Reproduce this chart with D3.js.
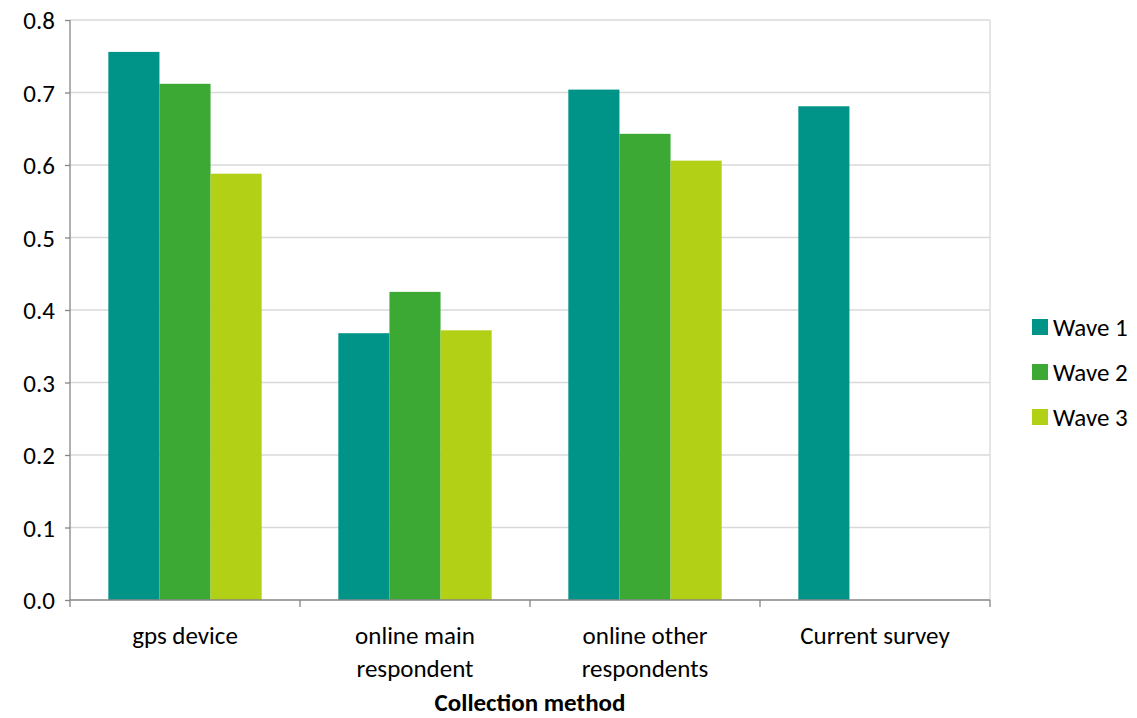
<!DOCTYPE html>
<html><head><meta charset="utf-8">
<script src="https://cdn.jsdelivr.net/npm/d3@7"></script>
<style>body{margin:0;background:#fff}svg{display:block}text{font-family:Carlito,Calibri,Lato,"Open Sans",sans-serif}</style>
</head><body><svg id="c" width="1137" height="718"></svg>
<script>
const categories = [["gps device"],["online main","respondent"],["online other","respondents"],["Current survey"]];
const seriesNames = ["Wave 1","Wave 2","Wave 3"];
const wave1 = [0.756, 0.368, 0.704, 0.681];
const wave2 = [0.712, 0.425, 0.643, null];
const wave3 = [0.588, 0.372, 0.606, null];
const colors = ["#009488","#3DA935","#B2D016"];
const yTicks = [0,0.1,0.2,0.3,0.4,0.5,0.6,0.7,0.8];
const xTitle = "Collection method";

const FS = 25;
const svg = d3.select("#c");
const m = {l:70, r:990, t:20, b:600};
const x = d3.scaleBand().domain(d3.range(categories.length)).range([m.l, m.r]).paddingInner(0).paddingOuter(0);
const bw = x.bandwidth()/4.5;
const xs = d3.scaleBand().domain(d3.range(3)).range([bw*0.75, bw*3.75]);
const y = d3.scaleLinear().domain([0,0.8]).range([m.b, m.t]);

// gridlines
svg.append("g").selectAll("line").data(yTicks.slice(1)).join("line")
  .attr("x1", m.l).attr("x2", m.r).attr("y1", d=>y(d)).attr("y2", d=>y(d))
  .attr("stroke","#d9d9d9").attr("stroke-width",1.3);
svg.append("line").attr("x1",m.r).attr("x2",m.r).attr("y1",m.t).attr("y2",m.b).attr("stroke","#d9d9d9").attr("stroke-width",1.3);

const series = [wave1, wave2, wave3];
series.forEach((s,si)=>{
  svg.append("g").selectAll("rect").data(s.map((v,i)=>({v,i})).filter(d=>d.v!=null)).join("rect")
    .attr("x", d=>x(d.i)+xs(si)).attr("width", xs.bandwidth())
    .attr("y", d=>y(d.v)).attr("height", d=>y(0)-y(d.v))
    .attr("fill", colors[si]);
});

// y axis
const ya = svg.append("g").attr("transform",`translate(${m.l},0)`)
  .call(d3.axisLeft(y).tickValues(yTicks).tickFormat(d3.format(".1f")).tickSize(5).tickPadding(10));
ya.select(".domain").attr("stroke","#868686").attr("stroke-width",1.3).attr("d",`M-0,${m.t}V${m.b}`);
ya.selectAll(".tick line").attr("stroke","#868686").attr("stroke-width",1.3);
ya.selectAll(".tick text").attr("font-size",FS).attr("fill","#000").attr("dy","0.35em").style("font-family","Carlito,Calibri,Lato,sans-serif");

// x axis
const xa = svg.append("g").attr("transform",`translate(0,${m.b})`);
xa.append("line").attr("x1",m.l).attr("x2",m.r).attr("stroke","#868686").attr("stroke-width",1.3);
const edges = d3.range(categories.length+1).map(i=> i<categories.length ? x(i) : m.r);
xa.selectAll("line.t").data(edges).join("line").attr("class","t")
  .attr("x1",d=>d).attr("x2",d=>d).attr("y1",0).attr("y2",7).attr("stroke","#868686").attr("stroke-width",1.3);
categories.forEach((lines,i)=>{
  const t = xa.append("text").attr("text-anchor","middle").attr("font-size",FS).attr("fill","#000")
    .attr("transform",`translate(${x(i)+x.bandwidth()/2},0)`);
  lines.forEach((ln,j)=>t.append("tspan").attr("x",0).attr("y",44+j*33).text(ln));
});
svg.append("text").attr("x",(m.l+m.r)/2).attr("y",711).attr("text-anchor","middle")
  .attr("font-size",FS).attr("font-weight","bold").text(xTitle);

// legend
const lg = svg.append("g").attr("transform","translate(1032,0)");
seriesNames.forEach((n,i)=>{
  const yy = 327 + i*45;
  lg.append("rect").attr("x",0).attr("y",yy-8).attr("width",16).attr("height",16).attr("fill",colors[i]);
  lg.append("text").attr("x",21).attr("y",yy+9).attr("font-size",FS).text(n);
});
</script></body></html>
